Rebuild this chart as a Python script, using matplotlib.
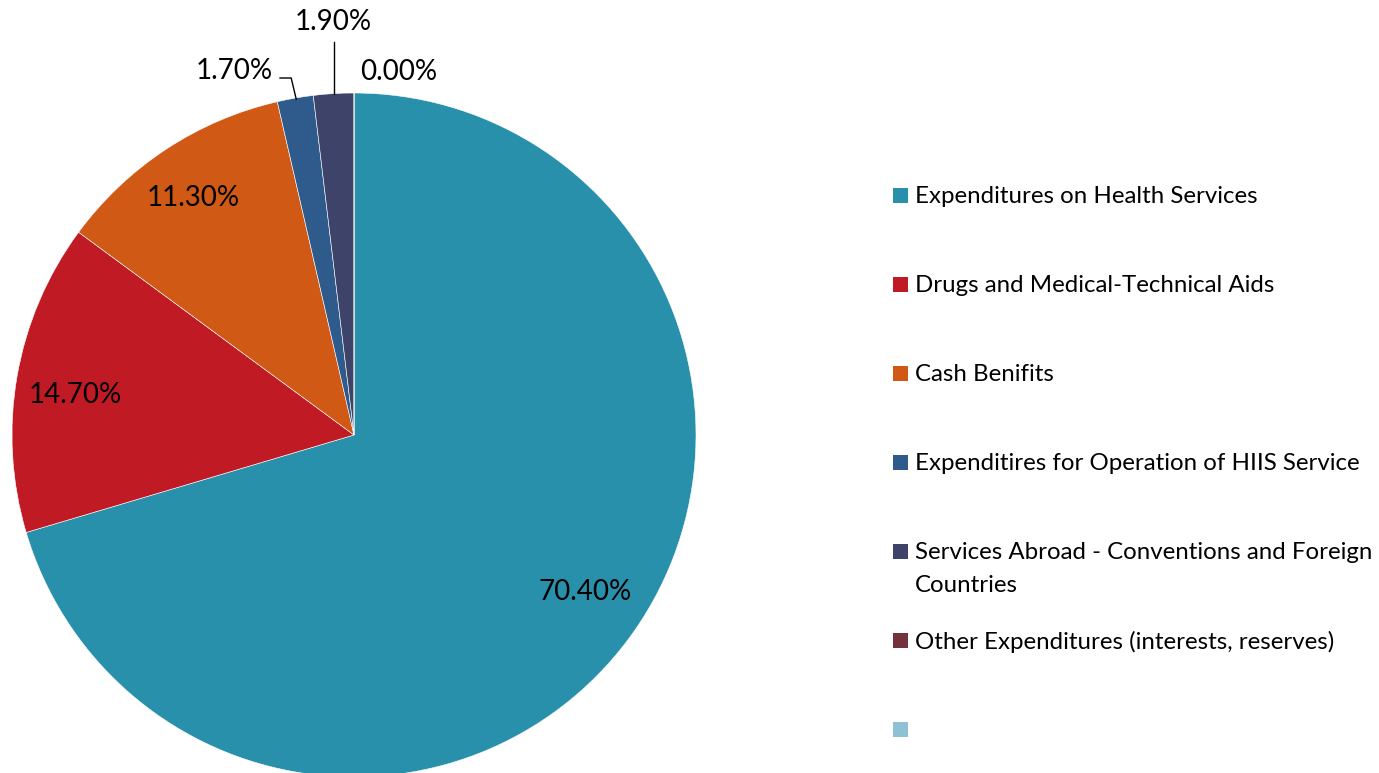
import numpy as np
import matplotlib.pyplot as plt
from matplotlib.patches import Rectangle

plt.rcParams['font.family'] = ['Lato', 'DejaVu Sans']

categories = [
    'Expenditures on Health Services',
    'Drugs and Medical-Technical Aids',
    'Cash Benifits',
    'Expenditires for Operation of HIIS Service',
    'Services Abroad - Conventions and Foreign\nCountries',
    'Other Expenditures (interests, reserves)',
    '',
]
shares = [70.4, 14.7, 11.3, 1.7, 1.9, 0.0, 0.0]
colors = ['#2990AB', '#C01B24', '#D05915', '#2F5A8C', '#3E4369', '#74323F', '#8DC1D3']

W, H = 1379, 773
fig = plt.figure(figsize=(W / 100, H / 100), dpi=100)
ax = fig.add_axes([0, 0, 1, 1])

# pixel-like frame, y measured from the top
def Y(y):
    return H - y

cx, cy, r = 354, Y(435), 342
wedges, _ = ax.pie(shares, colors=colors, startangle=90, counterclock=False,
                   center=(cx, cy), radius=r,
                   wedgeprops=dict(edgecolor='white', linewidth=0.4))
ax.set_xlim(0, W)
ax.set_ylim(0, H)
ax.set_aspect('equal')
ax.axis('off')

bounds = np.cumsum([0] + shares) / 100.0
mids = 90 - 360 * (bounds[:-1] + bounds[1:]) / 2
fs = 20

def lbl(v):
    return '%.2f%%' % v

# big slices: labels inside
inside_pos = [(585, 592), (75, 395), (193, 198)]
for i, (x, y) in enumerate(inside_pos):
    ax.text(x, Y(y), lbl(shares[i]), ha='center', va='center', fontsize=fs)

# small slices: labels outside with leader lines
a = np.deg2rad(mids[3])
ex, ey = cx + r * np.cos(a), cy + r * np.sin(a)
ax.plot([ex + 1, ex - 4, 280], [ey - 1, Y(78), Y(78)], color='black', lw=1)
ax.text(273, Y(71), lbl(shares[3]), ha='right', va='center', fontsize=fs)

a = np.deg2rad(mids[4])
ex, ey = cx + r * np.cos(a), cy + r * np.sin(a)
ax.plot([ex, ex], [ey, Y(42)], color='black', lw=1)
ax.text(333, Y(22), lbl(shares[4]), ha='center', va='center', fontsize=fs)

ax.text(399, Y(72), lbl(shares[5]), ha='center', va='center', fontsize=fs)

# legend
for i, (name, c) in enumerate(zip(categories, colors)):
    y = 195 + 89 * i
    ax.add_patch(Rectangle((893, Y(y) - 7.5), 15, 15, facecolor=c, edgecolor='none'))
    ax.text(915, Y(y - 9), name, ha='left', va='top', fontsize=17.3, linespacing=1.72)

fig.savefig('out.png', dpi=100)
